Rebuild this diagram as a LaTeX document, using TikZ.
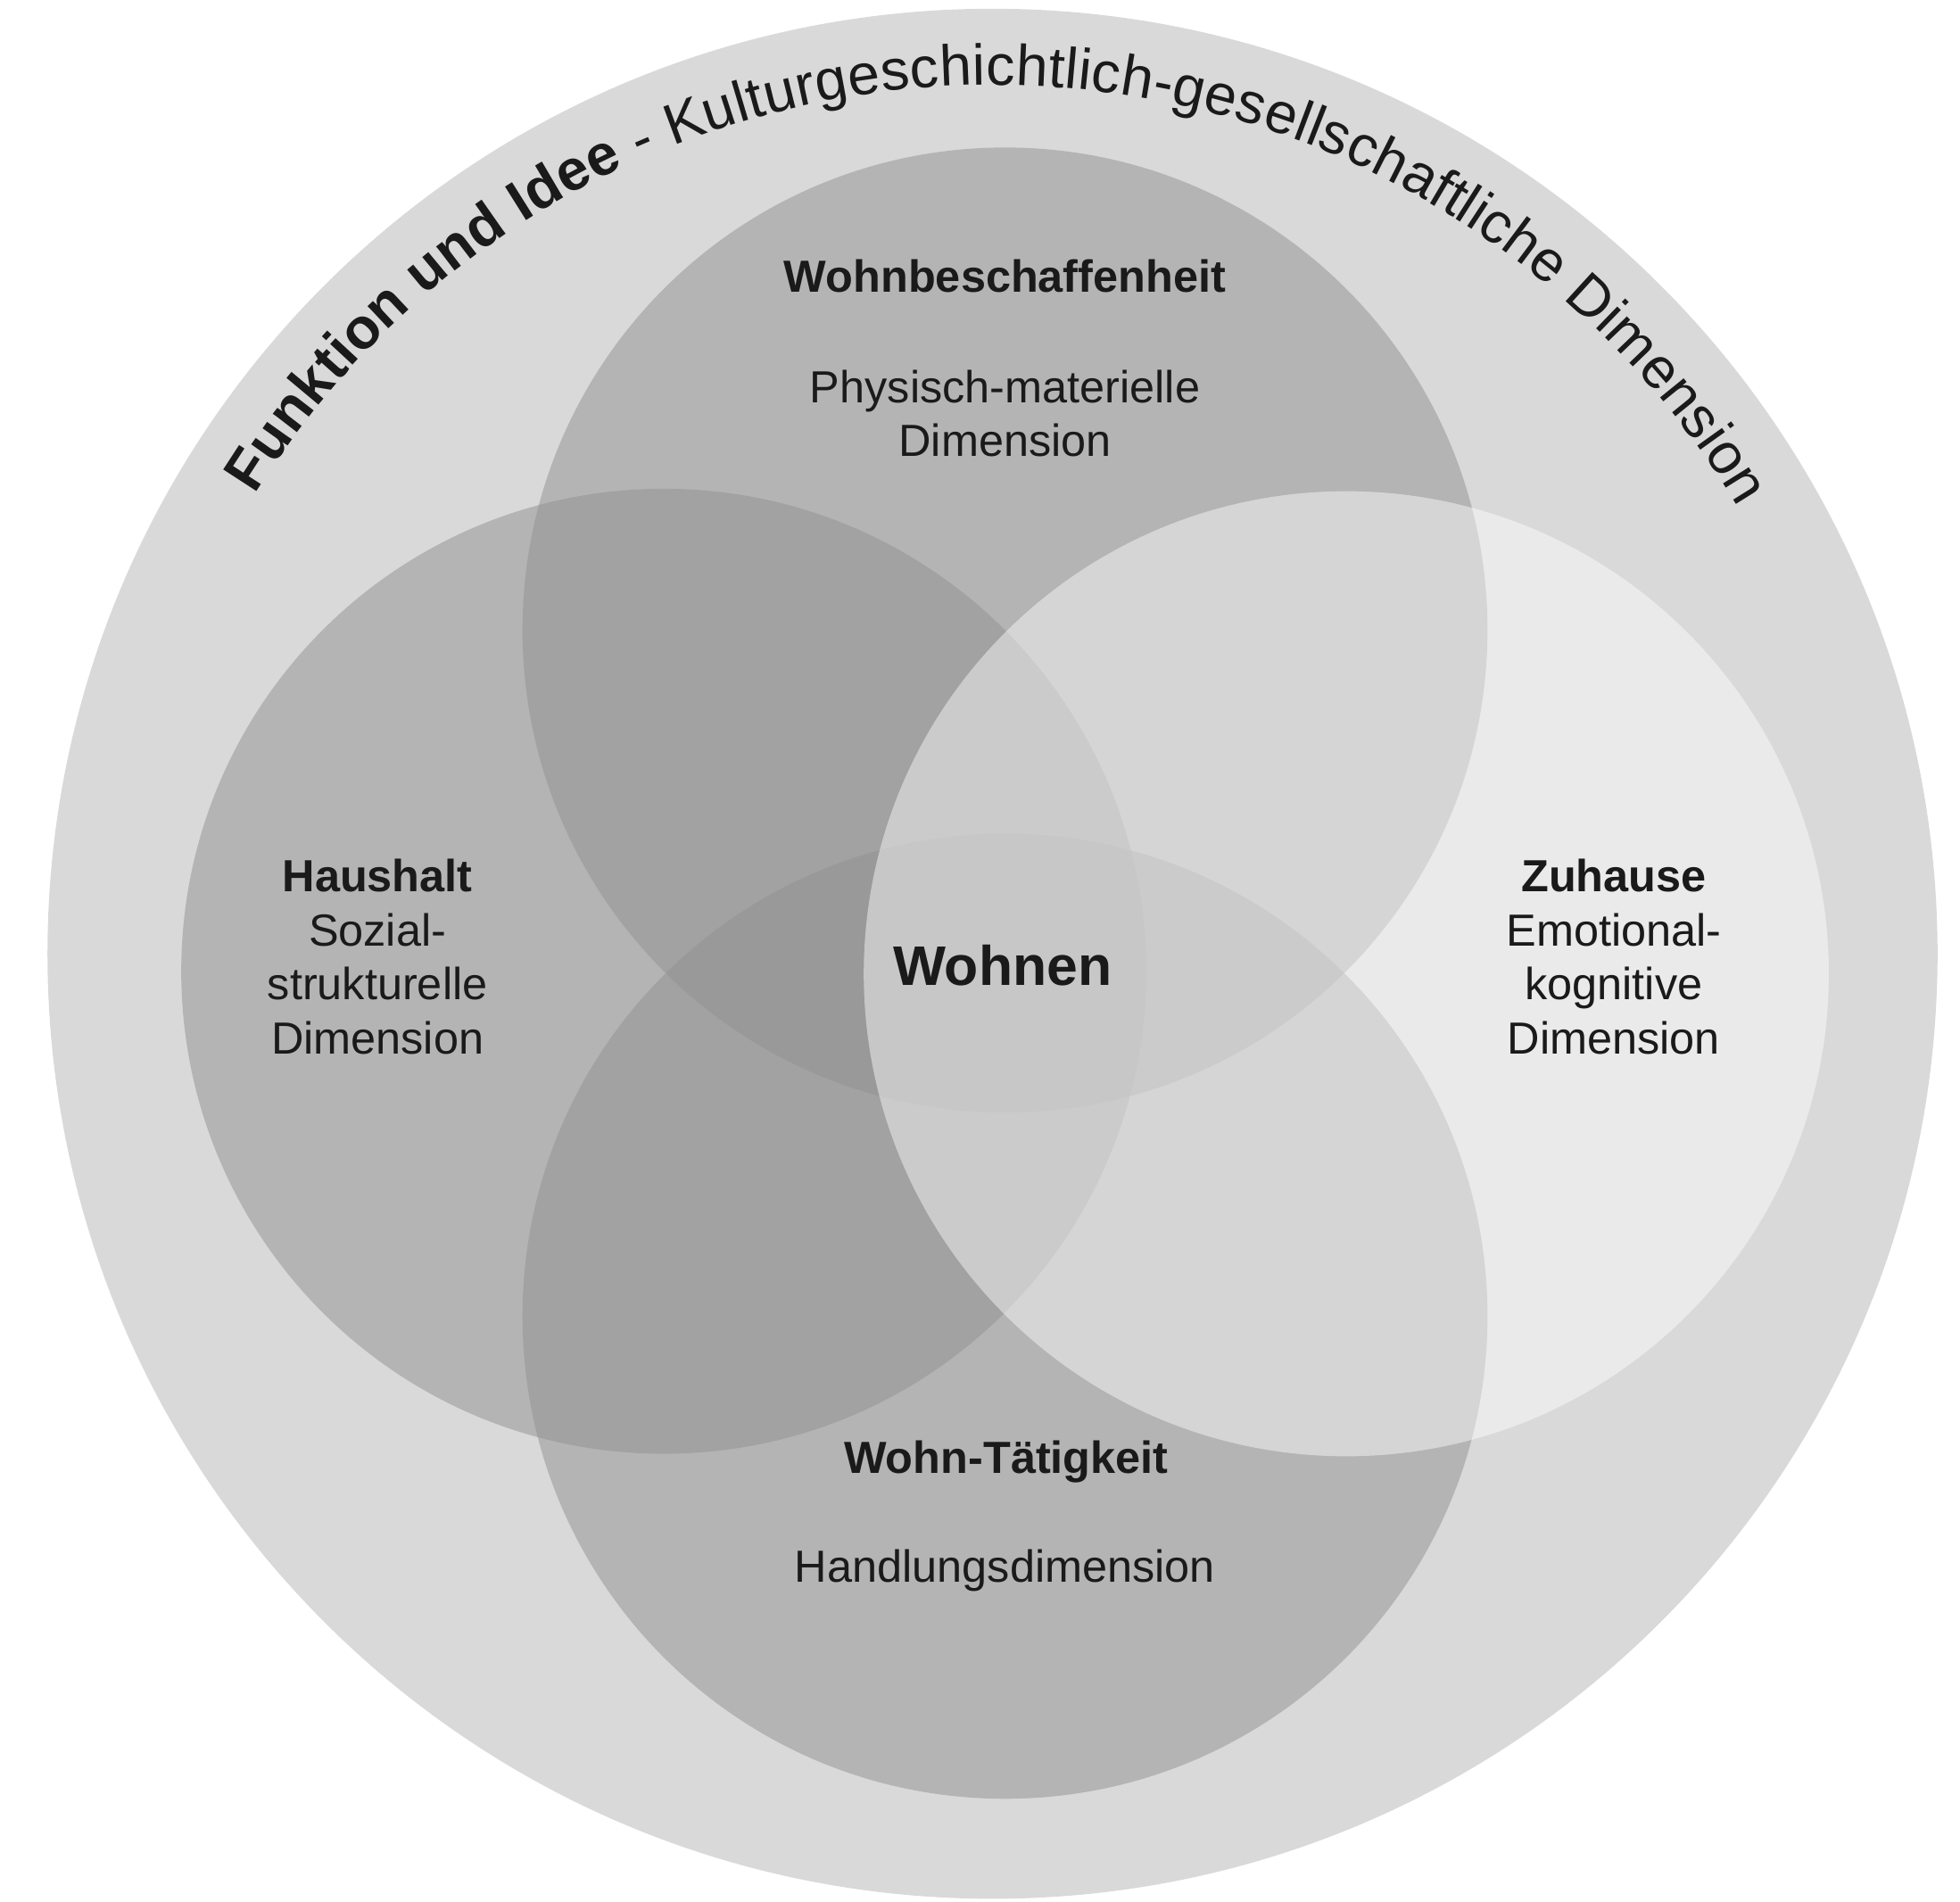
\documentclass[tikz,border=0pt]{standalone}
\usepackage{fontspec}
\setmainfont{Liberation Sans}
\usetikzlibrary{decorations.text,calc}
\definecolor{outerfill}{HTML}{D9D9D9}
\definecolor{darkfill}{RGB}{145,145,145}
\definecolor{ink}{HTML}{1A1A1A}
\newcommand\arcboldfont{\fontsize{23pt}{27pt}\selectfont\bfseries}
\newcommand\arcregfont{\fontsize{23pt}{27pt}\selectfont\mdseries}
\begin{document}
\begin{tikzpicture}[x=0.5pt,y=0.5pt,
  lbl/.style={text=ink, inner sep=0pt, anchor=base, font=\fontsize{18pt}{21.75pt}\selectfont},
  lblb/.style={lbl, font=\fontsize{18pt}{21.75pt}\selectfont\bfseries},
  centrelbl/.style={lbl, font=\fontsize{22.3pt}{26pt}\selectfont\bfseries},
  darkcircle/.style={fill=darkfill, fill opacity=0.51},
  lightcircle/.style={fill=white, fill opacity=0.45}]
\useasboundingbox (0,0) rectangle (1568,-1521);
% circles
\coordinate (oc) at (794,-763);
\coordinate (ct) at (804,-504);
\coordinate (cl) at (531,-777);
\coordinate (cr) at (1077,-779);
\coordinate (cb) at (804,-1053);
\fill[outerfill] (oc) circle[radius=756];
\fill[darkcircle] (ct) circle[radius=386];
\fill[darkcircle] (cl) circle[radius=386];
\fill[darkcircle] (cb) circle[radius=386];
\fill[lightcircle] (cr) circle[radius=386];
% curved title
\path[decorate, decoration={text along path,
    text={|\arcboldfont|Funktion und Idee|\arcregfont| - Kulturgeschichtlich-gesellschaftliche Dimension},
    text align={fit to path}, text color=ink}]
  ($(oc)+(148.1:695)$) arc[start angle=148.1, end angle=30.9, radius=695];
% labels
\node[lblb] (wbh) at (804,-234) {Wohnbeschaffenheit};
\node[lbl] (wbh1) at (804,-322) {Physisch-materielle};
\node[lbl] (wbh2) at (804,-365) {Dimension};
\node[lblb] (hh) at (302,-713) {Haushalt};
\node[lbl] (hh1) at (302,-757) {Sozial-};
\node[lbl] (hh2) at (302,-800) {strukturelle};
\node[lbl] (hh3) at (302,-843) {Dimension};
\node[lblb] (zh) at (1291,-713) {Zuhause};
\node[lbl] (zh1) at (1291,-757) {Emotional-};
\node[lbl] (zh2) at (1291,-800) {kognitive};
\node[lbl] (zh3) at (1291,-843) {Dimension};
\node[centrelbl] (wo) at (802,-788) {Wohnen};
\node[lblb] (wt) at (805,-1179) {Wohn-Tätigkeit};
\node[lbl] (wt1) at (804,-1266) {Handlungsdimension};
\end{tikzpicture}
\end{document}
